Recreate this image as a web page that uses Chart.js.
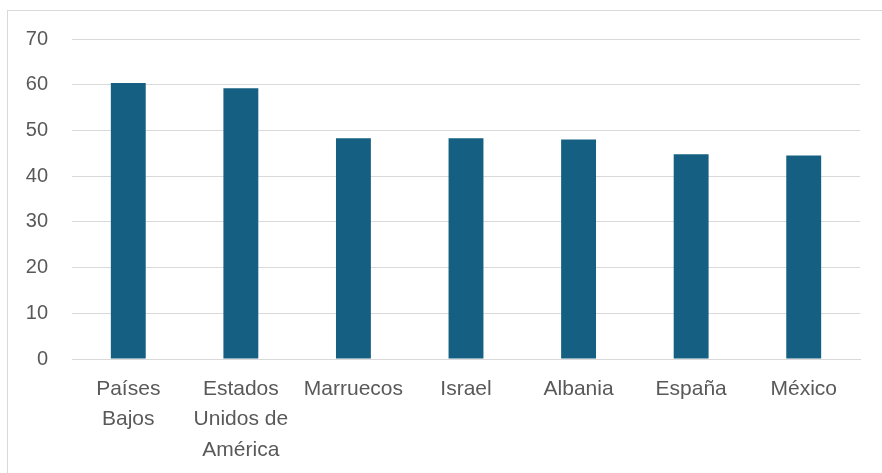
<!DOCTYPE html>
<html>
<head>
<meta charset="utf-8">
<script src="https://cdn.jsdelivr.net/npm/chart.js@4"></script>
<style>
  html, body { margin: 0; padding: 0; background: #fff; }
  #wrap { position: absolute; left: 0; top: 0; width: 882px; height: 473px; }
  #frame { position: absolute; left: 7px; top: 10px; width: 900px; height: 500px;
           border-left: 1px solid #d9d9d9; border-top: 1px solid #d9d9d9; }
</style>
</head>
<body>
<div id="frame"></div>
<div id="wrap"><canvas id="chart"></canvas></div>
<script>
// categories and values
const countries = [
    ['Países', 'Bajos'],
    ['Estados', 'Unidos de', 'América'],
    'Marruecos',
    'Israel',
    'Albania',
    'España',
    'México'
];
const scores = [60.4, 59.2, 48.3, 48.3, 48.0, 44.8, 44.5];
const yTicks = [0, 10, 20, 30, 40, 50, 60, 70];

const textColor = '#595959';
const gridColor = '#d9d9d9';

const ctx = document.getElementById('chart').getContext('2d');
new Chart(ctx, {
    type: 'bar',
    data: {
        labels: countries,
        datasets: [{
            data: scores,
            backgroundColor: '#156082',
            borderWidth: 0,
            barPercentage: 0.31,
            categoryPercentage: 1,
        }],
    },
    options: {
        responsive: true,
        maintainAspectRatio: false,
        animation: false,
        layout: { padding: { top: 39, right: 22, left: 0, bottom: 0 } },
        plugins: {
            legend: { display: false },
            tooltip: { enabled: false },
        },
        scales: {
            x: {
                grid: { display: false, drawTicks: false },
                border: { color: gridColor, width: 1 },
                ticks: {
                    color: textColor,
                    font: { family: 'Liberation Sans', size: 21, lineHeight: 1.45 },
                    padding: 15,
                    maxRotation: 0,
                    autoSkip: false,
                },
                afterFit: function (scale) { scale.height = 114; },
            },
            y: {
                min: 0,
                max: 70,
                afterBuildTicks: function (scale) {
                    scale.ticks = yTicks.map(v => ({ value: v }));
                },
                grid: { color: gridColor, lineWidth: 1, drawTicks: false },
                border: { display: false },
                ticks: {
                    color: textColor,
                    font: { family: 'Liberation Sans', size: 20 },
                    padding: 24,
                },
                afterFit: function (scale) { scale.width = 72; },
            },
        },
    },
});
</script>
</body>
</html>
